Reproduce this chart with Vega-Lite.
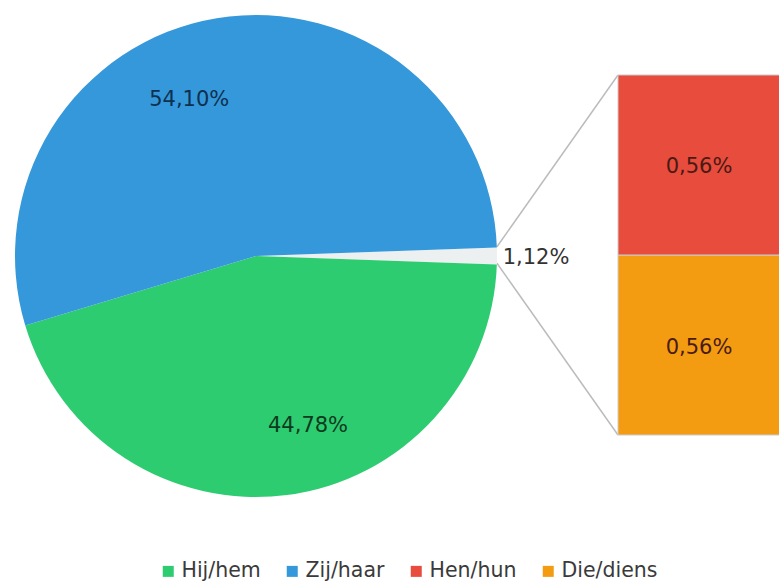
{
  "$schema": "https://vega.github.io/schema/vega-lite/v6.json",
  "width": 779,
  "height": 583,
  "autosize": {"type": "none"},
  "padding": 0,
  "background": "white",
  "config": {"view": {"stroke": null}, "font": "DejaVu Sans"},
  "datasets": {
    "pie": [
      {"categorie": "Overig", "procent": 1.12, "volgorde": 1, "label": "1,12%"},
      {"categorie": "Hij/hem", "procent": 44.78, "volgorde": 2, "label": "44,78%"},
      {"categorie": "Zij/haar", "procent": 54.10, "volgorde": 3, "label": "54,10%"}
    ],
    "bar": [
      {"categorie": "Die/diens", "procent": 0.56, "volgorde": 1, "label": "0,56%"},
      {"categorie": "Hen/hun", "procent": 0.56, "volgorde": 2, "label": "0,56%"}
    ]
  },
  "layer": [
    {
      "data": {"values": [{}]},
      "mark": {"type": "rule", "color": "#bcbcbc", "strokeWidth": 1.5},
      "encoding": {
        "x": {"datum": 497, "type": "quantitative", "scale": {"domain": [0, 779], "nice": false, "zero": false}, "axis": null},
        "x2": {"datum": 618},
        "y": {"datum": 0.5858, "type": "quantitative", "scale": {"domain": [-0.46044, 1.35333], "nice": false, "zero": false}, "axis": null},
        "y2": {"datum": 1.12}
      }
    },
    {
      "data": {"values": [{}]},
      "mark": {"type": "rule", "color": "#bcbcbc", "strokeWidth": 1.5},
      "encoding": {
        "x": {"datum": 497, "type": "quantitative", "scale": {"domain": [0, 779], "nice": false, "zero": false}, "axis": null},
        "x2": {"datum": 618},
        "y": {"datum": 0.5342, "type": "quantitative", "scale": {"domain": [-0.46044, 1.35333], "nice": false, "zero": false}, "axis": null},
        "y2": {"datum": 0}
      }
    },
    {
      "data": {"name": "pie"},
      "mark": {"type": "arc", "outerRadius": 241},
      "encoding": {
        "x": {"datum": 256, "type": "quantitative", "scale": {"domain": [0, 779], "nice": false, "zero": false}, "axis": null},
        "y": {"datum": 0.5569, "type": "quantitative", "scale": {"domain": [-0.46044, 1.35333], "nice": false, "zero": false}, "axis": null},
        "theta": {"field": "procent", "type": "quantitative", "stack": true, "scale": {"range": [1.5356, 7.8188]}},
        "order": {"field": "volgorde", "type": "quantitative"},
        "color": {
          "field": "categorie", "type": "nominal",
          "scale": {"domain": ["Hij/hem", "Zij/haar", "Hen/hun", "Die/diens", "Overig"], "range": ["#2ecc71", "#3498db", "#e74c3c", "#f39c12", "#ecf0f1"]},
          "legend": {"orient": "none", "legendX": 158, "legendY": 561, "direction": "horizontal", "title": null, "values": ["Hij/hem", "Zij/haar", "Hen/hun", "Die/diens"], "symbolType": "square", "symbolSize": 121, "symbolStrokeWidth": 0, "labelFontSize": 20.5, "labelFont": "DejaVu Sans", "labelColor": "#3a3a3a", "columnPadding": 21, "labelOffset": 3, "padding": 0}
        }
      }
    },
    {
      "data": {"name": "pie"},
      "mark": {"type": "text", "radius": 158, "dx": -41, "fontSize": 21, "font": "DejaVu Sans", "color": "#0f3050", "align": "center", "baseline": "middle"},
      "encoding": {
        "x": {"datum": 256, "type": "quantitative", "scale": {"domain": [0, 779], "nice": false, "zero": false}, "axis": null},
        "y": {"datum": 0.5569, "type": "quantitative", "scale": {"domain": [-0.46044, 1.35333], "nice": false, "zero": false}, "axis": null},
        "theta": {"field": "procent", "type": "quantitative", "stack": true, "scale": {"range": [1.5356, 7.8188]}},
        "order": {"field": "volgorde", "type": "quantitative"},
        "detail": {"field": "categorie", "type": "nominal"},
        "text": {"condition": {"test": "datum.categorie === 'Zij/haar'", "field": "label", "type": "nominal"}, "value": ""}
      }
    },
    {
      "data": {"name": "pie"},
      "mark": {"type": "text", "radius": 171.5, "dx": 30, "fontSize": 21, "font": "DejaVu Sans", "color": "#0c3a1c", "align": "center", "baseline": "middle"},
      "encoding": {
        "x": {"datum": 256, "type": "quantitative", "scale": {"domain": [0, 779], "nice": false, "zero": false}, "axis": null},
        "y": {"datum": 0.5569, "type": "quantitative", "scale": {"domain": [-0.46044, 1.35333], "nice": false, "zero": false}, "axis": null},
        "theta": {"field": "procent", "type": "quantitative", "stack": true, "scale": {"range": [1.5356, 7.8188]}},
        "order": {"field": "volgorde", "type": "quantitative"},
        "detail": {"field": "categorie", "type": "nominal"},
        "text": {"condition": {"test": "datum.categorie === 'Hij/hem'", "field": "label", "type": "nominal"}, "value": ""}
      }
    },
    {
      "data": {"name": "pie"},
      "mark": {"type": "text", "radius": 280, "dy": 2, "fontSize": 21, "font": "DejaVu Sans", "color": "#333333", "align": "center", "baseline": "middle"},
      "encoding": {
        "x": {"datum": 256, "type": "quantitative", "scale": {"domain": [0, 779], "nice": false, "zero": false}, "axis": null},
        "y": {"datum": 0.5569, "type": "quantitative", "scale": {"domain": [-0.46044, 1.35333], "nice": false, "zero": false}, "axis": null},
        "theta": {"field": "procent", "type": "quantitative", "stack": true, "scale": {"range": [1.5356, 7.8188]}},
        "order": {"field": "volgorde", "type": "quantitative"},
        "detail": {"field": "categorie", "type": "nominal"},
        "text": {"condition": {"test": "datum.categorie === 'Overig'", "field": "label", "type": "nominal"}, "value": ""}
      }
    },
    {
      "data": {"name": "bar"},
      "transform": [
        {"stack": "procent", "groupby": [], "sort": [{"field": "volgorde", "order": "ascending"}], "as": ["van", "tot"]}
      ],
      "mark": {"type": "rect", "stroke": "#cccccc", "strokeWidth": 1},
      "encoding": {
        "x": {"datum": 618, "type": "quantitative", "scale": {"domain": [0, 779], "nice": false, "zero": false}, "axis": null},
        "x2": {"datum": 782},
        "y": {"field": "van", "type": "quantitative", "scale": {"domain": [-0.46044, 1.35333], "nice": false, "zero": false}, "axis": null},
        "y2": {"field": "tot"},
        "color": {
          "field": "categorie", "type": "nominal",
          "scale": {"domain": ["Hij/hem", "Zij/haar", "Hen/hun", "Die/diens", "Overig"], "range": ["#2ecc71", "#3498db", "#e74c3c", "#f39c12", "#ecf0f1"]},
          "legend": {"orient": "none", "legendX": 158, "legendY": 561, "direction": "horizontal", "title": null, "values": ["Hij/hem", "Zij/haar", "Hen/hun", "Die/diens"], "symbolType": "square", "symbolSize": 121, "symbolStrokeWidth": 0, "labelFontSize": 20.5, "labelFont": "DejaVu Sans", "labelColor": "#3a3a3a", "columnPadding": 21, "labelOffset": 3, "padding": 0}
        }
      }
    },
    {
      "data": {"name": "bar"},
      "mark": {"type": "text", "fontSize": 21, "font": "DejaVu Sans", "color": "#4a1a14", "align": "center", "baseline": "middle", "dy": 2.5},
      "encoding": {
        "x": {"datum": 699, "type": "quantitative", "scale": {"domain": [0, 779], "nice": false, "zero": false}, "axis": null},
        "y": {"field": "procent", "type": "quantitative", "stack": "zero", "bandPosition": 0.5, "scale": {"domain": [-0.46044, 1.35333], "nice": false, "zero": false}, "axis": null},
        "order": {"field": "volgorde", "type": "quantitative"},
        "detail": {"field": "categorie", "type": "nominal"},
        "text": {"field": "label", "type": "nominal"}
      }
    }
  ]
}
